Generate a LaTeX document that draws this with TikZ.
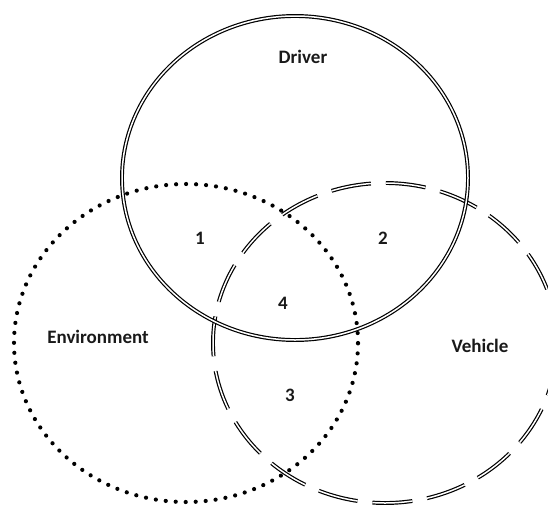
\documentclass[tikz,border=0pt]{standalone}
\usepackage{fontspec}
\setmainfont{Carlito}
\usetikzlibrary{shapes.geometric}
\begin{document}
\begin{tikzpicture}[x=1pt,y=-1pt,
  set/.style={ellipse,inner sep=0pt,outer sep=0pt,minimum width=#1},
  solidset/.style={draw=black,line width=1.2pt,double=white,double distance=1.5pt},
  dashset/.style={solidset,dash pattern=on 40pt off 15pt},
  dotset/.style={draw=black,line width=4.2pt,line cap=round,dash pattern=on 0pt off 10pt},
  lbl/.style={font=\fontsize{19}{21}\selectfont\bfseries,text=black!90,inner sep=0pt}]
  \useasboundingbox (0,0) rectangle (548,506);
  \clip (0,0) rectangle (548,506);
  % the three sets
  \node[set=344pt,minimum height=320pt,dashset] (vehicle) at (385,343) {};
  \node[set=346pt,minimum height=324pt,solidset] (driver) at (295,178) {};
  \node[set=344pt,minimum height=318pt,dotset] (environment) at (186,343) {};
  % set names
  \node[lbl] (tdriver) at (303,57) {Driver};
  \node[lbl] (tenv) at (98,337) {Environment};
  \node[lbl] (tveh) at (480,346) {Vehicle};
  % overlap regions
  \node[lbl] (r1) at (200,238) {1};
  \node[lbl] (r2) at (383,238) {2};
  \node[lbl] (r4) at (283,303) {4};
  \node[lbl] (r3) at (290,395) {3};
\end{tikzpicture}
\end{document}
